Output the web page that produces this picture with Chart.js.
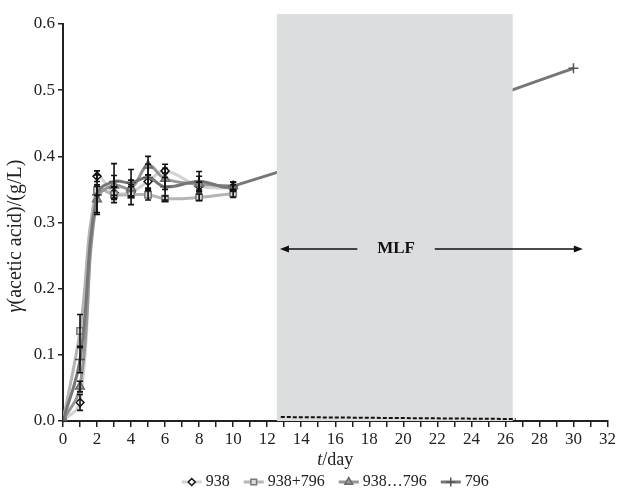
<!DOCTYPE html>
<html>
<head>
<meta charset="utf-8">
<script src="https://cdn.jsdelivr.net/npm/chart.js@4"></script>
<style>
  body { margin: 0; background: #fff; }
  #wrap { width: 618px; height: 490px; }
</style>
</head>
<body>
<div id="wrap"><canvas id="chart"></canvas></div>
<script>
"use strict"
// Data
const days = [0, 1, 2, 3, 4, 5, 6, 8, 10];
const days796 = [0, 1, 2, 3, 4, 5, 6, 8, 10, 30];

const s938 = [0, 0.028, 0.370, 0.345, 0.346, 0.362, 0.378, 0.355, 0.352];
const err938 = [0, 0.012, 0.008, 0.008, 0.008, 0.010, 0.010, 0.006, 0.005];

const s938p796 = [0, 0.136, 0.349, 0.342, 0.342, 0.342, 0.336, 0.338, 0.344];
const err938p796 = [0, 0.025, 0.008, 0.012, 0.015, 0.008, 0.004, 0.005, 0.006];

const s938t796 = [0, 0.052, 0.335, 0.356, 0.352, 0.386, 0.366, 0.358, 0.355];
const err938t796 = [0, 0.008, 0.020, 0.015, 0.012, 0.014, 0.016, 0.012, 0.006];

const s796 = [0, 0.093, 0.342, 0.362, 0.360, 0.368, 0.354, 0.362, 0.355, 0.533];
const err796 = [0, 0.020, 0.030, 0.027, 0.020, 0.020, 0.020, 0.015, 0.006, 0];

// MLF period
const mlfBox = [12.57, 26.43];
const mlfBoxTop = 0.615;
const mlfDashDays = [12.8, 26.6];
const mlfDashValues = [0.006, 0.003];
const mlfArrowY = 0.26;
const mlfArrowLeft = [12.75, 17.3];
const mlfArrowRight = [21.85, 30.55];

const seriesNames = ["938", "938+796", "938\u2026796", "796"];

const serif = "'Liberation Serif', 'Times New Roman', serif";

function pts(xs, ys) {
    return xs.map((x, i) => ({ x: x, y: ys[i] }));
}

const datasets = [
    {
        label: seriesNames[0], data: pts(days, s938), err: err938,
        borderColor: "#d2d2d2", borderWidth: 3,
        pointStyle: "rectRot", pointRadius: 4, pointBorderWidth: 1.5,
        pointBackgroundColor: "#ffffff", pointBorderColor: "#111111", order: 5
    },
    {
        label: seriesNames[1], data: pts(days, s938p796), err: err938p796,
        borderColor: "#b5b5b5", borderWidth: 3,
        pointStyle: "rect", pointRadius: 4.5, pointBorderWidth: 1.5,
        pointBackgroundColor: "#dcdcdc", pointBorderColor: "#777777", order: 4
    },
    {
        label: seriesNames[2], data: pts(days, s938t796), err: err938t796,
        borderColor: "#959595", borderWidth: 3,
        pointStyle: "triangle", pointRadius: 5, pointBorderWidth: 1.5,
        pointBackgroundColor: "#9a9a9a", pointBorderColor: "#6a6a6a", order: 3
    },
    {
        label: seriesNames[3], data: pts(days796, s796), err: err796,
        borderColor: "#767676", borderWidth: 3,
        pointStyle: "cross", pointRadius: 5, pointBorderWidth: 1.5,
        pointBackgroundColor: "#555555", pointBorderColor: "#555555", order: 2
    },
    {
        label: "dash", data: pts(mlfDashDays, mlfDashValues),
        borderColor: "#111111", borderWidth: 2, borderDash: [4, 2],
        pointRadius: 0, tension: 0, order: 1
    }
];

// Draws gray MLF box over the 796 line, error bars, arrows, titles and legend
const extras = {
    id: "extras",
    afterDatasetDraw(chart, args) {
        if (args.index !== 3) return;
        const { ctx, scales: { x, y } } = chart;
        ctx.save();
        ctx.fillStyle = "#dcdddf";
        const x0 = x.getPixelForValue(mlfBox[0]);
        const x1 = x.getPixelForValue(mlfBox[1]);
        const y0 = y.getPixelForValue(mlfBoxTop);
        ctx.fillRect(x0, y0, x1 - x0, y.getPixelForValue(0) - y0);
        ctx.restore();
    },
    afterDatasetsDraw(chart) {
        const { ctx, scales: { x, y } } = chart;
        ctx.save();
        // error bars
        ctx.strokeStyle = "#111111";
        ctx.lineWidth = 1.6;
        chart.data.datasets.forEach(ds => {
            if (!ds.err) return;
            ds.data.forEach((p, i) => {
                const e = ds.err[i];
                if (!e) return;
                const px = x.getPixelForValue(p.x);
                const top = y.getPixelForValue(p.y + e);
                const bot = y.getPixelForValue(p.y - e);
                ctx.beginPath();
                ctx.moveTo(px, top); ctx.lineTo(px, bot);
                ctx.moveTo(px - 3, top); ctx.lineTo(px + 3, top);
                ctx.moveTo(px - 3, bot); ctx.lineTo(px + 3, bot);
                ctx.stroke();
            });
        });
        // MLF arrows
        const ay = y.getPixelForValue(mlfArrowY);
        ctx.lineWidth = 1.5;
        ctx.fillStyle = "#111111";
        const la = x.getPixelForValue(mlfArrowLeft[0]);
        const lb = x.getPixelForValue(mlfArrowLeft[1]);
        const ra = x.getPixelForValue(mlfArrowRight[0]);
        const rb = x.getPixelForValue(mlfArrowRight[1]);
        ctx.beginPath();
        ctx.moveTo(la + 6, ay); ctx.lineTo(lb, ay);
        ctx.moveTo(ra, ay); ctx.lineTo(rb - 6, ay);
        ctx.stroke();
        ctx.beginPath();
        ctx.moveTo(la, ay); ctx.lineTo(la + 9, ay - 3.5); ctx.lineTo(la + 9, ay + 3.5); ctx.closePath();
        ctx.moveTo(rb, ay); ctx.lineTo(rb - 9, ay - 3.5); ctx.lineTo(rb - 9, ay + 3.5); ctx.closePath();
        ctx.fill();
        ctx.font = "bold 17px " + serif;
        ctx.textAlign = "center";
        ctx.textBaseline = "middle";
        ctx.fillText("MLF", (lb + ra) / 2, ay);
        ctx.restore();
    },
    afterDraw(chart) {
        const { ctx, chartArea } = chart;
        ctx.save();
        ctx.fillStyle = "#222222";
        ctx.textBaseline = "middle";
        // x title: t/day
        const cx = (chartArea.left + chartArea.right) / 2;
        ctx.font = "italic 18px " + serif;
        const wt = ctx.measureText("t").width;
        ctx.font = "18px " + serif;
        const wr = ctx.measureText("/day").width;
        let sx = cx - (wt + wr) / 2;
        ctx.textAlign = "left";
        ctx.font = "italic 18px " + serif;
        ctx.fillText("t", sx, 460);
        ctx.font = "18px " + serif;
        ctx.fillText("/day", sx + wt, 460);
        // y title
        ctx.save();
        ctx.translate(16, 236);
        ctx.rotate(-Math.PI / 2);
        ctx.font = "italic 20px " + serif;
        const wg = ctx.measureText("\u03b3").width;
        ctx.font = "20px " + serif;
        const wy = ctx.measureText("(acetic acid)/(g/L)").width;
        sx = -(wg + wy) / 2;
        ctx.font = "italic 20px " + serif;
        ctx.fillText("\u03b3", sx, 0);
        ctx.font = "20px " + serif;
        ctx.fillText("(acetic acid)/(g/L)", sx + wg, 0);
        ctx.restore();
        // legend
        ctx.font = "16px " + serif;
        const items = chart.data.datasets.slice(0, 4);
        const lineW = 20, gap = 4, spacing = 14;
        const widths = items.map(ds => lineW + gap + ctx.measureText(ds.label).width);
        const total = widths.reduce((a, b) => a + b, 0) + spacing * (items.length - 1);
        let lx = cx - total / 2;
        const ly = 482;
        items.forEach((ds, i) => {
            ctx.strokeStyle = ds.borderColor;
            ctx.lineWidth = 3;
            ctx.beginPath();
            ctx.moveTo(lx, ly); ctx.lineTo(lx + lineW, ly);
            ctx.stroke();
            ctx.fillStyle = ds.pointBackgroundColor;
            ctx.strokeStyle = ds.pointBorderColor;
            ctx.lineWidth = ds.pointBorderWidth;
            Chart.helpers.drawPoint(ctx, {
                pointStyle: ds.pointStyle, radius: ds.pointRadius - 0.5,
                borderWidth: ds.pointBorderWidth, rotation: 0
            }, lx + lineW / 2, ly);
            ctx.fillStyle = "#222222";
            ctx.fillText(ds.label, lx + lineW + gap, ly);
            lx += widths[i] + spacing;
        });
        ctx.restore();
    }
};

new Chart(document.getElementById("chart"), {
    type: "scatter",
    data: { datasets: datasets },
    options: {
        responsive: true,
        maintainAspectRatio: false,
        animation: false,
        showLine: true,
        elements: { line: { tension: 0.4 } },
        layout: { padding: { top: 24, right: 10, left: 0, bottom: 0 } },
        plugins: { legend: { display: false }, tooltip: { enabled: false } },
        scales: {
            x: {
                type: "linear", min: 0, max: 32,
                afterFit: s => { s.height = 69; },
                ticks: {
                    stepSize: 1, autoSkip: false, maxRotation: 0, padding: 2,
                    color: "#222222", font: { family: serif, size: 17 },
                    callback: v => (v % 2 === 0 ? v : "")
                },
                grid: { drawOnChartArea: false, tickLength: 6, color: "#222222", lineWidth: 1.5 },
                border: { color: "#222222", width: 2 }
            },
            y: {
                min: 0, max: 0.6,
                afterFit: s => { s.width = 63; },
                ticks: {
                    stepSize: 0.1, padding: 3,
                    color: "#222222", font: { family: serif, size: 17 },
                    callback: v => v.toFixed(1)
                },
                grid: { drawOnChartArea: false, tickLength: 5, color: "#222222", lineWidth: 1.5 },
                border: { color: "#222222", width: 2 }
            }
        }
    },
    plugins: [extras]
});
</script>
</body>
</html>
